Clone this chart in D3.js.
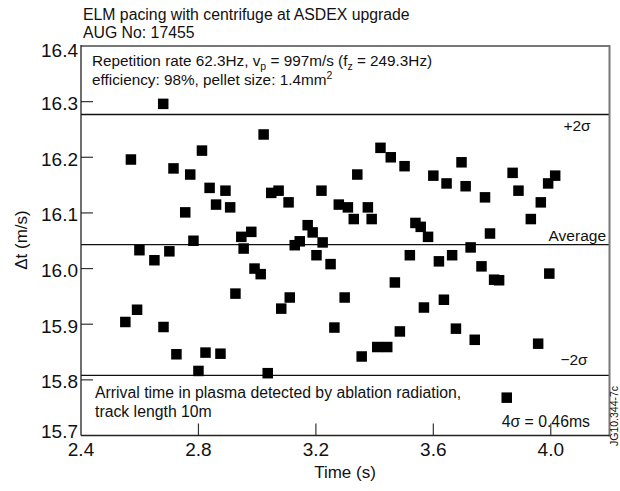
<!DOCTYPE html>
<html><head><meta charset="utf-8">
<script src="https://cdn.jsdelivr.net/npm/d3@7"></script>
<style>
html,body{margin:0;padding:0;background:#fff;}
text{font-family:"Liberation Sans",Arial,Helvetica,sans-serif;fill:#111;}
</style></head>
<body>
<svg id="c" width="620" height="491"></svg>
<script>
// ---- data ----
const times = [2.570,3.022,2.812,2.715,2.772,2.838,2.892,3.048,3.073,3.219,
  2.860,2.908,3.107,2.755,3.278,3.172,3.189,2.980,2.946,2.783,
  3.145,3.128,3.223,2.599,2.701,2.954,2.650,2.991,3.012,3.202,
  3.250,2.926,3.082,3.111,2.591,2.551,2.681,3.263,3.298,2.725,
  2.824,2.875,2.800,3.036,2.680,
  3.420,3.455,3.502,3.696,3.341,3.600,3.645,3.710,3.870,3.890,
  4.015,3.991,3.776,3.966,3.309,3.377,3.329,3.390,3.539,3.557,
  3.582,3.932,3.793,3.727,3.520,3.619,3.664,3.764,3.807,3.824,
  3.995,3.469,3.568,3.636,3.486,3.677,3.741,3.957,3.409,3.443,
  3.356,3.850];
const dts = [16.196,16.241,16.212,16.180,16.169,16.145,16.140,16.136,16.140,16.140,
  16.115,16.110,16.119,16.101,16.115,16.078,16.065,16.066,16.057,16.050,
  16.049,16.042,16.047,16.033,16.031,16.036,16.015,16.000,15.990,16.024,
  16.008,15.955,15.928,15.948,15.926,15.904,15.895,15.894,15.948,15.846,
  15.849,15.847,15.816,15.812,16.296,
  16.217,16.200,16.184,16.191,16.169,16.167,16.153,16.148,16.172,16.140,
  16.167,16.153,16.128,16.119,16.110,16.110,16.089,16.089,16.082,16.075,
  16.057,16.089,16.063,16.038,16.024,16.013,16.024,16.004,15.980,15.979,
  15.991,15.975,15.930,15.944,15.887,15.892,15.872,15.865,15.859,15.859,
  15.842,15.768];
const refLabels = ["+2\u03c3","Average","\u22122\u03c3"];
const refValues = [16.277,16.043,15.808];
const xTicks = [2.4,2.8,3.2,3.6,4.0];
const yTicks = [15.7,15.8,15.9,16.0,16.1,16.2,16.3,16.4];
const titleLines = ["ELM pacing with centrifuge at ASDEX upgrade","AUG No: 17455"];
const bottomNote = ["Arrival time in plasma detected by ablation radiation,","track length 10m"];
const sigmaNote = "4\u03c3 = 0.46ms";

// ---- layout ----
const L=81, R=609.5, T=46, B=435.5;
const x = d3.scaleLinear().domain([2.4,4.2]).range([L,R]);
const y = d3.scaleLinear().domain([15.7,16.4]).range([B,T]);
const svg = d3.select("#c");

// title
svg.selectAll("text.title").data(titleLines).enter().append("text")
  .attr("x",83).attr("y",(d,i)=>20+i*18).attr("font-size",15.8).text(d=>d);

// reference lines
svg.selectAll("line.ref").data(refValues).enter().append("line")
  .attr("x1",L).attr("x2",R).attr("y1",d=>y(d)).attr("y2",d=>y(d))
  .attr("stroke","#111").attr("stroke-width",1.4);

// ticks (inward)
const tl=12;
svg.selectAll("line.yt").data(yTicks.filter(v=>v>15.75&&v<16.35)).enter().append("line")
  .attr("x1",L).attr("x2",L+tl).attr("y1",d=>y(d)).attr("y2",d=>y(d))
  .attr("stroke","#333").attr("stroke-width",1.2);
svg.selectAll("line.xt").data(xTicks.filter(v=>v>2.45)).enter().append("line")
  .attr("y1",B).attr("y2",B-tl).attr("x1",d=>x(d)).attr("x2",d=>x(d))
  .attr("stroke","#333").attr("stroke-width",1.2);

// frame
svg.append("line").attr("x1",L).attr("x2",R).attr("y1",T).attr("y2",T).attr("stroke","#777").attr("stroke-width",2);
svg.append("line").attr("x1",R).attr("x2",R).attr("y1",T-1).attr("y2",B+1).attr("stroke","#777").attr("stroke-width",2);
svg.append("line").attr("x1",L).attr("x2",L).attr("y1",T-1).attr("y2",B).attr("stroke","#222").attr("stroke-width",1.3);
svg.append("line").attr("x1",L).attr("x2",R).attr("y1",B).attr("y2",B).attr("stroke","#222").attr("stroke-width",1.3);

// y tick labels
svg.selectAll("text.yl").data(yTicks).enter().append("text")
  .attr("x",78).attr("y",d=> d===16.4? y(d)+11 : d===15.7 ? y(d)+2 : y(d)+8.5)
  .attr("text-anchor","end").attr("font-size",19).text(d=>d.toFixed(1));
// x tick labels
svg.selectAll("text.xl").data(xTicks).enter().append("text")
  .attr("x",d=>x(d)).attr("y",456).attr("text-anchor","middle").attr("font-size",19).text(d=>d.toFixed(1));

// axis titles
svg.append("text").attr("x",345).attr("y",478).attr("text-anchor","middle").attr("font-size",17).text("Time (s)");
svg.append("text").attr("transform","translate(27,240) rotate(-90)").attr("text-anchor","middle").attr("font-size",17).text("\u0394t (m/s)");

// top note
const t1 = svg.append("text").attr("x",92).attr("y",66).attr("font-size",15.3);
t1.append("tspan").text("Repetition rate 62.3Hz, v");
t1.append("tspan").attr("font-size",10.5).attr("dy",4).text("p");
t1.append("tspan").attr("dy",-4).text(" = 997m/s (f");
t1.append("tspan").attr("font-size",10.5).attr("dy",4).text("z");
t1.append("tspan").attr("dy",-4).text(" = 249.3Hz)");
const t2 = svg.append("text").attr("x",92).attr("y",85).attr("font-size",15.3);
t2.append("tspan").text("efficiency: 98%, pellet size: 1.4mm");
t2.append("tspan").attr("font-size",10.5).attr("dy",-6).text("2");

// ref labels
const refLabX=[577,606,574], refAnchor=["middle","end","middle"], refDy=[17,-4,-10];
svg.selectAll("text.rl").data(refLabels).enter().append("text")
  .attr("x",(d,i)=>refLabX[i]).attr("y",(d,i)=>y(refValues[i])+refDy[i])
  .attr("text-anchor",(d,i)=>refAnchor[i]).attr("font-size",15.5).text(d=>d);

// bottom note
svg.selectAll("text.bn").data(bottomNote).enter().append("text")
  .attr("x",95).attr("y",(d,i)=>398+i*19).attr("font-size",15.8).text(d=>d);
svg.append("text").attr("x",590).attr("y",427).attr("text-anchor","end").attr("font-size",15.8).text(sigmaNote);

// side code
svg.append("text").attr("transform","translate(618,446) rotate(-90)").attr("font-size",10.5).text("JG10.344-7c");

// points
const s=10.5;
svg.selectAll("rect.p").data(times.map((t,i)=>[t,dts[i]])).enter().append("rect")
  .attr("x",d=>x(d[0])-s/2).attr("y",d=>y(d[1])-s/2).attr("width",s).attr("height",s).attr("fill","#000");
</script>
</body></html>
